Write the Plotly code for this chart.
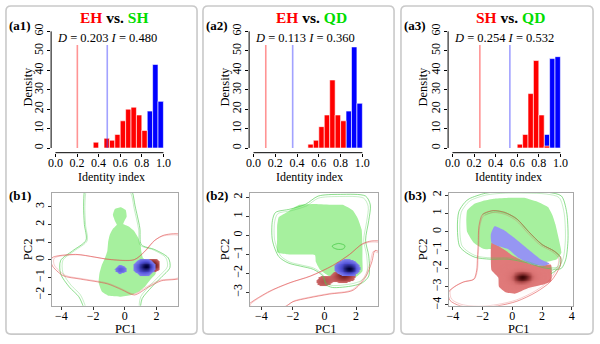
import numpy as np
import plotly.graph_objects as go

W, H = 600, 344
SERIF = "Liberation Serif"

# ---------------- data ----------------
pair_left = ["EH", "EH", "SH"]
pair_right = ["SH", "QD", "QD"]
D_obs = [0.203, 0.113, 0.254]
I_obs = [0.480, 0.360, 0.532]

bin_width = 0.05
a1_D_bins = [0.35, 0.45, 0.50, 0.55, 0.60, 0.65, 0.70, 0.75, 0.80]
a1_D_dens = [3, 5, 4, 7, 14, 20, 21, 17, 9]
a1_I_bins = [0.85, 0.90, 0.95]
a1_I_dens = [19, 43, 24]
a2_D_bins = [0.50, 0.55, 0.60, 0.65, 0.70, 0.75, 0.80]
a2_D_dens = [2, 4, 11, 17, 35, 17, 14]
a2_I_bins = [0.85, 0.90, 0.95]
a2_I_dens = [19, 52, 23]
a3_D_bins = [0.60, 0.65, 0.70, 0.75, 0.80, 0.85]
a3_D_dens = [2, 7, 28, 45, 17, 1]
a3_I_bins = [0.85, 0.90, 0.95]
a3_I_dens = [7, 46, 47]

hist_xticks = [0.0, 0.2, 0.4, 0.6, 0.8, 1.0]
hist_xtick_text = ["0.0", "0.2", "0.4", "0.6", "0.8", "1.0"]
hist_yticks = [0, 10, 20, 30, 40, 50, 60]

# niche plots (PC1, PC2 coordinates)
b1_green_fill = [(-0.75, 2.55), (-0.62, 2.88), (-0.25, 2.98), (0.06, 2.82), (0.12, 2.45), (-0.02, 2.2),
                 (-0.1, 2.02), (0.25, 1.88), (0.6, 1.62), (0.85, 1.25), (1.0, 0.85), (1.05, 0.45), (1.15, 0.1),
                 (1.5, -0.1), (1.9, -0.4), (1.95, -0.8), (1.6, -1.15), (1.3, -1.5), (0.9, -1.8), (0.4, -2.0),
                 (-0.3, -2.1), (-1.0, -2.05), (-1.45, -1.8), (-1.65, -1.3), (-1.6, -0.8), (-1.45, -0.3),
                 (-1.25, 0.1), (-1.1, 0.5), (-1.05, 1.0), (-0.95, 1.4), (-0.75, 1.75), (-0.5, 1.98),
                 (-0.62, 2.2), (-0.75, 2.55)]
b1_green_line = [(-2.55, 3.9), (-2.6, 3.0), (-2.55, 2.0), (-2.45, 1.1), (-3.3, 0.5), (-4.05, -0.05),
                 (-4.05, -0.8), (-3.5, -1.55), (-2.9, -2.1), (-2.6, -2.7), (-2.4, -3.3), (0.9, -3.3),
                 (1.0, -2.6), (1.1, -2.2), (1.7, -1.55), (2.3, -1.0), (2.85, -0.45), (2.75, 0.1), (1.9, 0.57),
                 (1.05, 0.85), (0.95, 1.8), (0.65, 3.05), (0.45, 3.9), (0.0, 4.4), (-2.4, 4.4), (-2.55, 3.9)]
b1_red_line = [(-4.6, 0.1), (-3.1, 0.3), (-1.9, 0.15), (-1.0, 0.02), (0.6, 0.0), (1.25, 0.45), (1.9, 1.1),
               (2.5, 1.4), (3.6, 1.4), (3.8, 0.2), (3.6, -1.0), (2.3, -1.2), (1.5, -1.55), (0.6, -2.0),
               (-0.2, -1.7), (-1.1, -1.37), (-2.8, -1.1), (-3.9, -0.9), (-4.6, -0.3), (-4.6, 0.1)]
b1_red_kernels = [(1.75, -0.3, 0.3, 0.25, 1.0)]
b1_blue_kernels = [(1.2, -0.42, 0.44, 0.31, 1.0), (1.38, -0.36, 0.22, 0.16, 0.7),
                   (-0.3, -0.54, 0.3, 0.2, 0.6)]

b2_green_fill = [(-2.9, 0.95), (-2.3, 1.25), (-1.6, 1.6), (-0.6, 1.65), (0.5, 1.6), (1.15, 1.6), (1.8, 1.3),
                 (2.1, 0.9), (2.35, 0.3), (2.4, -0.5), (2.4, -1.3), (2.4, -1.9), (2.0, -2.2), (1.2, -2.25),
                 (0.4, -2.2), (0.0, -2.0), (-0.3, -1.8), (-0.55, -1.4), (-0.6, -1.05), (-1.5, -1.02),
                 (-2.4, -1.0), (-3.0, -0.9), (-3.0, -0.2), (-3.0, 0.5), (-2.9, 0.95)]
b2_green_line = [(-3.3, 0.77), (-3.1, 1.2), (-2.2, 1.37), (-1.2, 1.63), (-0.4, 2.06), (1.0, 2.15), (2.6, 2.06),
                 (2.9, 1.6), (2.8, 0.77), (2.6, -0.26), (2.8, -1.1), (2.8, -2.15), (2.4, -2.5), (1.8, -2.66),
                 (0.5, -2.75), (0.1, -2.6), (-0.1, -2.15), (-0.7, -1.8), (-1.5, -1.63), (-2.3, -1.46),
                 (-2.9, -1.12), (-3.3, -0.26), (-3.3, 0.77)]
b2_green_small = [(0.5, -0.55), (0.9, -0.43), (1.3, -0.55), (1.2, -0.72), (0.8, -0.74), (0.5, -0.62),
                  (0.5, -0.55)]
b2_red_line = [(-4.9, -3.75), (-3.6, -3.0), (-2.2, -2.5), (-0.9, -2.15), (0.5, -1.6), (1.6, -1.0),
               (2.4, -0.45), (3.0, -0.3), (3.6, -0.35), (3.6, -0.9), (3.2, -0.8), (3.0, -1.4), (2.6, -2.2),
               (1.8, -2.9), (0.3, -3.1), (-1.0, -3.3), (-2.0, -3.5), (-2.6, -3.8), (-4.9, -3.75)]
b2_red_kernels = [(1.2, -2.15, 0.45, 0.22, 1.0), (1.3, -1.98, 0.3, 0.12, 0.6), (-0.1, -2.42, 0.45, 0.25, 0.5)]
b2_blue_kernels = [(1.4, -1.7, 0.52, 0.28, 1.0), (1.6, -1.78, 0.25, 0.15, 0.8)]

b3_green_fill = [(-3.05, 1.15), (-2.6, 1.5), (-1.9, 1.7), (-1.2, 1.8), (-0.2, 1.85), (0.8, 1.85), (1.8, 1.6),
                 (2.4, 1.35), (2.7, 0.9), (2.9, 0.4), (3.1, -0.3), (3.3, -1.15), (3.0, -1.5), (2.3, -1.65),
                 (1.8, -1.7), (0.5, -1.7), (-0.5, -1.2), (-1.3, -0.95), (-1.9, -0.95), (-2.6, -0.6),
                 (-3.05, 0.0), (-3.1, 0.6), (-3.05, 1.15)]
b3_green_line = [(-3.6, 1.1), (-3.2, 1.6), (-2.9, 1.8), (-1.8, 2.1), (-0.5, 2.2), (1.0, 2.2), (2.4, 2.15),
                 (3.3, 1.95), (3.65, 1.1), (3.75, -0.35), (3.6, -1.5), (3.3, -2.0), (2.9, -2.05), (2.0, -1.95),
                 (1.0, -1.7), (-0.3, -1.5), (-1.5, -1.5), (-2.5, -1.4), (-3.1, -1.15), (-3.55, -0.8),
                 (-3.7, 0.2), (-3.6, 1.1)]
b3_green_inner = [(-2.0, 0.95), (-1.3, 1.15), (-0.5, 1.05), (0.3, 0.7), (1.1, 0.0), (2.0, -0.7), (2.8, -1.05),
                  (3.25, -1.4), (3.2, -1.9), (2.6, -2.3)]
b3_red_line = [(-4.3, -3.3), (-3.9, -3.0), (-3.3, -2.75), (-2.6, -2.6), (-2.4, -2.1), (-2.35, -1.4),
               (-2.3, -0.7), (-2.25, 0.3), (-2.0, 0.95), (-1.3, 1.15), (-0.5, 1.05), (0.3, 0.7), (1.1, 0.0),
               (2.0, -0.7), (2.8, -1.05), (3.25, -1.4), (3.2, -1.9), (2.6, -2.7), (1.6, -3.3), (0.3, -3.8),
               (-1.0, -4.05), (-2.2, -4.15), (-3.5, -4.05), (-4.2, -3.75), (-4.3, -3.3)]
b3_red_fill = [(-1.4, -0.6), (-1.0, -0.75), (-0.5, -1.0), (0.0, -1.3), (0.5, -1.5), (1.2, -1.75), (1.8, -1.85),
               (2.6, -1.8), (2.6, -2.7), (2.0, -2.9), (1.0, -3.1), (0.2, -3.38), (-0.45, -3.3), (-0.9, -3.0),
               (-0.95, -2.5), (-1.4, -2.1), (-1.45, -1.5), (-1.45, -1.0), (-1.4, -0.6)]
b3_blue_fill = [(-1.2, 0.3), (-0.6, 0.1), (0.27, -0.43), (1.2, -1.06), (1.9, -1.5), (2.5, -1.74), (2.2, -1.86),
                (1.3, -1.77), (0.4, -1.42), (-0.25, -0.97), (-0.9, -0.8), (-1.4, -0.6), (-1.45, -0.15),
                (-1.2, 0.3)]
b3_red_core = [(0.5, -2.5, 0.55, 0.32, 1.0), (1.15, -2.45, 0.45, 0.25, 0.4)]

niche_xranges = [(-4.625, 3.375), (-4.75, 3.4), (-4.3, 4.1)]
niche_yranges = [(-2.61, 3.78), (-3.71, 2.22), (-4.04, 2.11)]
niche_xticks = [[-4, -2, 0, 2], [-4, -2, 0, 2], [-4, -2, 0, 2, 4]]
niche_yticks = [[-2, -1, 0, 1, 2, 3], [-3, -2, -1, 0, 1, 2], [-4, -3, -2, -1, 0, 1, 2]]

# ---------------- layout helpers ----------------
def fx(px):
    return px / W


def fy(py):
    return 1 - py / H


def aid(n):
    return "" if n == 1 else str(n)


hist_x_px = [(48.6, 166.4), (248.6, 367.4), (449.6, 567.4)]
hist_y_px = (24.2, 152.8)
niche_x_px = [(49, 177), (249, 379), (450, 576)]
niche_y_px = (194, 309)
panel_px = [(3, 3, 196, 338), (202, 3, 395, 338), (402, 3, 596, 338)]

fig = go.Figure()
layout = dict(width=W, height=H, margin=dict(l=0, r=0, t=0, b=0), paper_bgcolor="white",
              plot_bgcolor="white", showlegend=False, barmode="overlay",
              font=dict(family=SERIF, size=12, color="black"))

hist_data = [(a1_D_bins, a1_D_dens, a1_I_bins, a1_I_dens),
             (a2_D_bins, a2_D_dens, a2_I_bins, a2_I_dens),
             (a3_D_bins, a3_D_dens, a3_I_bins, a3_I_dens)]
niche_green_fill = [b1_green_fill, b2_green_fill, b3_green_fill]
niche_green_lines = [[b1_green_line], [b2_green_line, b2_green_small], [b3_green_line, b3_green_inner]]
niche_red_lines = [[b1_red_line], [b2_red_line], [b3_red_line]]

shapes = []
annotations = []


def pts_xy(pts):
    return [p[0] for p in pts], [p[1] for p in pts]


def scaled(pts, f):
    xs = np.array([p[0] for p in pts]); ys = np.array([p[1] for p in pts])
    cx, cy = xs.mean(), ys.mean()
    return list(cx + f * (xs - cx)), list(cy + f * (ys - cy))


def kernel_density(kernels, xr, yr, n=140):
    xs = np.linspace(xr[0], xr[1], n)
    ys = np.linspace(yr[0], yr[1], n)
    X, Y = np.meshgrid(xs, ys)
    Z = np.zeros_like(X)
    for cx, cy, sx, sy, w in kernels:
        Z += w * np.exp(-0.5 * (((X - cx) / sx) ** 2 + ((Y - cy) / sy) ** 2))
    return xs, ys, Z


def blob_scale(level, zmax, edge, mid, dark):
    t = level / zmax
    return [[0, "rgba(255,255,255,0)"], [max(t - 0.004, 0), "rgba(255,255,255,0)"], [t, edge],
            [t + (1 - t) * 0.3, mid], [1, dark]]


def rounded(x0, y0, x1, y1, r):
    P = lambda x, y: f"{fx(x):.5f},{fy(y):.5f}"
    return (f"M {P(x0 + r, y0)} L {P(x1 - r, y0)} Q {P(x1, y0)} {P(x1, y0 + r)} "
            f"L {P(x1, y1 - r)} Q {P(x1, y1)} {P(x1 - r, y1)} L {P(x0 + r, y1)} "
            f"Q {P(x0, y1)} {P(x0, y1 - r)} L {P(x0, y0 + r)} Q {P(x0, y0)} {P(x0 + r, y0)} Z")


tickfont = dict(family=SERIF, size=12, color="black")

for k in range(3):
    # ---------- histogram ----------
    hn = k + 1
    hx, hy = "x" + aid(hn), "y" + aid(hn)
    layout["xaxis" + aid(hn)] = dict(domain=[fx(hist_x_px[k][0]), fx(hist_x_px[k][1])], range=[-0.04, 1.04],
                                     anchor=hy, showgrid=False, zeroline=False, showline=False, ticks="outside",
                                     ticklen=3, tickcolor="black", tickvals=hist_xticks,
                                     ticktext=hist_xtick_text, tickfont=tickfont, ticklabelstandoff=-4)
    layout["yaxis" + aid(hn)] = dict(domain=[fy(hist_y_px[1]), fy(hist_y_px[0])], range=[-2.4, 62.4],
                                     anchor=hx, showgrid=False, zeroline=False, showline=False, ticks="outside",
                                     ticklen=3, tickcolor="black", tickvals=hist_yticks, tickangle=-90,
                                     tickfont=tickfont, ticklabelstandoff=-1)
    shapes.append(dict(type="line", xref=hx, yref=f"{hy} domain", x0=0, x1=1, y0=0, y1=0,
                       line=dict(color="black", width=1)))
    shapes.append(dict(type="line", xref=f"{hx} domain", yref=hy, x0=0, x1=0, y0=0, y1=60,
                       line=dict(color="black", width=1)))
    Dbins, Ddens, Ibins, Idens = hist_data[k]
    fig.add_trace(go.Bar(x=[b + bin_width / 2 for b in Ibins], y=Idens, width=bin_width,
                         marker=dict(color="#0000ff", line=dict(color="white", width=0.6)),
                         xaxis=hx, yaxis=hy))
    fig.add_trace(go.Bar(x=[b + bin_width / 2 for b in Dbins], y=Ddens, width=bin_width,
                         marker=dict(color="#ff0000", line=dict(color="white", width=0.6)),
                         xaxis=hx, yaxis=hy))
    fig.add_trace(go.Scatter(x=[D_obs[k], D_obs[k]], y=[0, 53], mode="lines",
                             line=dict(color="rgba(255,60,60,0.55)", width=1.6), xaxis=hx, yaxis=hy))
    fig.add_trace(go.Scatter(x=[I_obs[k], I_obs[k]], y=[0, 53], mode="lines",
                             line=dict(color="rgba(70,70,255,0.5)", width=1.6), xaxis=hx, yaxis=hy))
    annotations.append(dict(xref=hx, yref=hy, x=0.0, y=56.7, xanchor="left", yanchor="middle", showarrow=False,
                            text=f"<i>D</i> = {D_obs[k]:.3f} <i>I</i> = {I_obs[k]:.3f}",
                            font=dict(family=SERIF, size=12.5, color="black")))

    # ---------- niche plot ----------
    nb = 4 + k
    o1 = 7 + k
    o2 = 10 + k
    xr, yr = niche_xranges[k], niche_yranges[k]
    dom_x = [fx(niche_x_px[k][0]), fx(niche_x_px[k][1])]
    dom_y = [fy(niche_y_px[1]), fy(niche_y_px[0])]
    layout[f"xaxis{nb}"] = dict(domain=dom_x, range=list(xr), anchor=f"y{nb}", showgrid=False, zeroline=False,
                                showline=True, mirror=True, linecolor="#a8a8a8", linewidth=1, ticks="outside",
                                ticklen=3, tickcolor="#333", tickvals=niche_xticks[k], tickfont=tickfont,
                                ticklabelstandoff=-4)
    layout[f"yaxis{nb}"] = dict(domain=dom_y, range=list(yr), anchor=f"x{nb}", showgrid=False, zeroline=False,
                                showline=True, mirror=True, linecolor="#a8a8a8", linewidth=1, ticks="outside",
                                ticklen=3, tickcolor="#333", tickvals=niche_yticks[k], tickangle=-90,
                                tickfont=tickfont, ticklabelstandoff=-1)
    for o in (o1, o2):
        layout[f"xaxis{o}"] = dict(domain=dom_x, range=list(xr), overlaying=f"x{nb}", anchor=f"y{o}",
                                   visible=False)
        layout[f"yaxis{o}"] = dict(domain=dom_y, range=list(yr), overlaying=f"y{nb}", anchor=f"x{o}",
                                   visible=False)

    gx, gy = pts_xy(niche_green_fill[k])
    fig.add_trace(go.Scatter(x=gx, y=gy, mode="lines", fill="toself", fillcolor="rgb(166,240,158)",
                             line=dict(width=0, shape="spline", smoothing=0.4), xaxis=f"x{nb}", yaxis=f"y{nb}"))
    if k == 2:
        rx_, ry_ = pts_xy(b3_red_fill)
        fig.add_trace(go.Scatter(x=rx_, y=ry_, mode="lines", fill="toself", fillcolor="rgb(224,122,122)",
                                 line=dict(width=0, shape="spline", smoothing=0.5),
                                 xaxis=f"x{nb}", yaxis=f"y{nb}"))
        xs, ys, Z = kernel_density(b3_red_core, xr, yr)
        fig.add_trace(go.Heatmap(x=xs, y=ys, z=Z, zmin=0, zmax=Z.max(), zsmooth="best", showscale=False,
                                 hoverinfo="skip",
                                 colorscale=[[0, "rgba(224,122,122,0)"], [0.4, "rgba(200,95,95,0.3)"],
                                             [0.75, "rgba(140,45,45,0.75)"], [1, "rgba(60,5,5,1)"]],
                                 xaxis=f"x{o1}", yaxis=f"y{o1}"))
        bx_, by_ = pts_xy(b3_blue_fill)
        fig.add_trace(go.Scatter(x=bx_, y=by_, mode="lines", fill="toself", fillcolor="rgb(150,150,242)",
                                 line=dict(width=0, shape="spline", smoothing=0.5),
                                 xaxis=f"x{o2}", yaxis=f"y{o2}"))
    else:
        red_k = [b1_red_kernels, b2_red_kernels][k]
        blue_k = [b1_blue_kernels, b2_blue_kernels][k]
        xs, ys, Z = kernel_density(red_k, xr, yr)
        fig.add_trace(go.Heatmap(x=xs, y=ys, z=Z, zmin=0, zmax=Z.max(), zsmooth="best", showscale=False,
                                 hoverinfo="skip",
                                 colorscale=blob_scale(0.3, Z.max(), "rgb(205,105,105)", "rgb(175,70,70)",
                                                       "rgb(90,10,10)"),
                                 xaxis=f"x{o1}", yaxis=f"y{o1}"))
        xs, ys, Z = kernel_density(blue_k, xr, yr)
        fig.add_trace(go.Heatmap(x=xs, y=ys, z=Z, zmin=0, zmax=Z.max(), zsmooth="best", showscale=False,
                                 hoverinfo="skip",
                                 colorscale=blob_scale(0.3, Z.max(), "rgb(128,128,238)", "rgb(80,80,215)",
                                                       "rgb(0,0,55)"),
                                 xaxis=f"x{o1}", yaxis=f"y{o1}"))

    for line_pts in niche_green_lines[k]:
        lx, ly = pts_xy(line_pts)
        fig.add_trace(go.Scatter(x=lx, y=ly, mode="lines",
                                 line=dict(color="rgba(80,205,80,0.65)", width=1, shape="spline", smoothing=0.8),
                                 xaxis=f"x{o2}", yaxis=f"y{o2}"))
        sx_, sy_ = scaled(line_pts, 0.955)
        fig.add_trace(go.Scatter(x=sx_, y=sy_, mode="lines",
                                 line=dict(color="rgba(80,205,80,0.4)", width=0.8, shape="spline", smoothing=0.8),
                                 xaxis=f"x{o2}", yaxis=f"y{o2}"))
    for line_pts in niche_red_lines[k]:
        lx, ly = pts_xy(line_pts)
        fig.add_trace(go.Scatter(x=lx, y=ly, mode="lines",
                                 line=dict(color="rgba(225,80,80,0.6)", width=1, shape="spline", smoothing=0.8),
                                 xaxis=f"x{o2}", yaxis=f"y{o2}"))
        sx_, sy_ = scaled(line_pts, 0.965)
        fig.add_trace(go.Scatter(x=sx_, y=sy_, mode="lines",
                                 line=dict(color="rgba(225,80,80,0.35)", width=0.8, shape="spline", smoothing=0.8),
                                 xaxis=f"x{o2}", yaxis=f"y{o2}"))

    # ---------- panel decorations ----------
    p = panel_px[k]
    shapes.append(dict(type="path", xref="paper", yref="paper", path=rounded(*p, 5),
                       line=dict(color="#c9c9c9", width=1.6), layer="below"))
    title_cx = [113, 312, 513][k]
    annotations.append(dict(xref="paper", yref="paper", x=fx(title_cx), y=fy(15), xanchor="center",
                            yanchor="middle", showarrow=False,
                            text=(f"<b><span style='color:#ff0000'>{pair_left[k]}</span> vs. "
                                  f"<span style='color:#00dd00'>{pair_right[k]}</span></b>"),
                            font=dict(family=SERIF, size=15.5, color="black")))
    off = p[0]
    annotations.append(dict(xref="paper", yref="paper", x=fx(off + 14.5), y=fy(23), xanchor="center",
                            yanchor="middle", showarrow=False, text=f"<b>(a{k + 1})</b>",
                            font=dict(family=SERIF, size=13, color="black")))
    annotations.append(dict(xref="paper", yref="paper", x=fx(off + 14.5), y=fy(197), xanchor="center",
                            yanchor="middle", showarrow=False, text=f"<b>(b{k + 1})</b>",
                            font=dict(family=SERIF, size=13, color="black")))
    annotations.append(dict(xref="paper", yref="paper", x=fx(off + 22.5), y=fy(85), xanchor="center",
                            yanchor="middle", showarrow=False, text="Density", textangle=-90,
                            font=dict(family=SERIF, size=12.5, color="black")))
    annotations.append(dict(xref="paper", yref="paper", x=fx((hist_x_px[k][0] + hist_x_px[k][1]) / 2 + 2),
                            y=fy(178), xanchor="center", yanchor="middle", showarrow=False,
                            text="Identity index", font=dict(family=SERIF, size=12, color="black")))
    annotations.append(dict(xref="paper", yref="paper", x=fx(off + 22.5), y=fy(251), xanchor="center",
                            yanchor="middle", showarrow=False, text="PC2", textangle=-90,
                            font=dict(family=SERIF, size=12.5, color="black")))
    annotations.append(dict(xref="paper", yref="paper", x=fx([124, 326, 521][k]), y=fy(333), xanchor="center",
                            yanchor="middle", showarrow=False, text="PC1",
                            font=dict(family=SERIF, size=12.5, color="black")))

layout["shapes"] = shapes
layout["annotations"] = annotations
fig.update_layout(**layout)
fig.write_html("out.html")
